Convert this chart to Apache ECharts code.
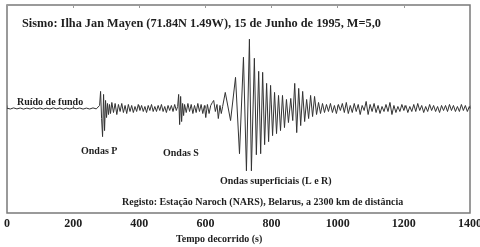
<!DOCTYPE html>
<html>
<head>
<meta charset="utf-8">
<script src="https://cdn.jsdelivr.net/npm/echarts@6/dist/echarts.min.js"></script>
<style>
  html, body { margin: 0; padding: 0; background: #ffffff; }
  #chart { width: 480px; height: 247px; }
</style>
</head>
<body>
<div id="chart"></div>
<script>
// Seismogram: [time (s), amplitude (arbitrary units)]
const backgroundNoise = [[0,0.3],[10,-0.5],[20,0.6],[30,-0.4],[40,0.5],[50,-0.6],[60,0.4],[70,-0.5],[80,0.7],[90,-0.4],[100,0.5],[110,-0.6],[120,0.3],[130,-0.5],[140,0.6],[150,-0.4],[160,0.5],[170,-0.7],[180,0.4],[190,-0.5],[200,0.6],[210,-0.3],[220,0.5],[230,-0.6],[240,0.4],[250,-0.5],[260,0.6],[270,-0.4]];
const pWave = [[276,0],[280,3],[283,17],[286,-10],[289,-28],[292,14],[295,-22],[298,8],[301,-9],[304,5],[307,-6],[310,4],[313,-5]];
const pCoda = [[317,6],[322,-4],[327,5],[332,-6],[337,4],[342,-3],[347,5],[352,-4],[357,3],[362,-5],[367,4],[372,-3],[377,3],[382,-4],[387,2],[392,-3],[397,4],[402,-2],[407,3],[412,-3],[417,2],[422,-4],[427,3],[432,-2],[437,4],[442,-3],[447,2],[452,-3],[457,3],[462,-2],[467,4],[472,-3],[477,2],[482,-4],[487,3],[492,-2],[497,3],[502,-3],[507,4],[512,-2]];
const sWave = [[516,2],[519,14],[522,-16],[525,12],[528,-13],[531,5],[534,-7],[537,4]];
const sCoda = [[542,-4],[547,5],[552,-3],[557,4],[562,-5],[567,3],[572,-4],[577,5],[582,-3],[587,4],[592,-5],[597,3],[601,-9],[606,4],[611,-5],[616,3],[621,6],[625,8],[630,-3],[635,4],[639,-10],[644,3],[648,-5],[652,2]];
const surfaceWaves = [[660,16],[676,-12],[691,31],[703,-45],[715,51],[724,-62],[733,69],[739,-62],[748,50],[754,-46],[761,37],[767,-45],[773,36],[779,-36],[785,25],[791,-33],[797,23],[803,-27],[809,16],[815,-25],[821,13],[827,-22],[833,13],[839,-19],[845,9],[851,-14],[858,10],[864,-12],[870,25],[876,-24],[882,20],[888,-17],[894,17],[900,-13],[906,9],[912,-10],[918,13],[924,-8],[930,12],[936,-6],[942,6],[948,-5],[954,5],[960,-4]];
const tailNoise = [
  [966,4],[972,-3],[978,5],[984,-4],[990,3],[996,-5],[1002,4],[1008,-2],[1014,5],[1020,-4],
  [1026,6],[1032,-5],[1038,3],[1044,-4],[1050,5],[1056,-3],[1062,4],[1068,-6],[1074,3],[1080,-2],
  [1086,7],[1092,-6],[1098,4],[1104,-3],[1110,5],[1116,-4],[1122,3],[1128,-5],[1134,2],[1140,-3],
  [1146,4],[1152,-3],[1158,6],[1164,-6],[1170,3],[1176,-4],[1182,2],[1188,-3],[1194,4],[1200,-2],
  [1206,3],[1212,-4],[1218,2],[1224,-3],[1230,4],[1236,-3],[1242,5],[1248,-2],[1254,3],[1260,-4],
  [1266,2],[1272,-3],[1278,4],[1284,-2],[1290,3],[1296,-3],[1302,2],[1308,-4],[1314,3],[1320,-2],
  [1326,3],[1332,-3],[1338,4],[1344,-2],[1350,3],[1356,-3],[1362,2],[1368,-3],[1374,4],[1380,-2],
  [1386,3],[1392,-3],[1398,2],[1400,0]
];
const xTicks = { min: 0, max: 1400, interval: 200 };

const trace = [].concat(backgroundNoise, pWave, pCoda, sWave, sCoda, surfaceWaves, tailNoise);

const FONT = '"Liberation Serif", "DejaVu Serif", serif';
const txt = (text, x, y, size) => ({
  type: 'text', x: x, y: y, silent: true,
  style: { text: text, fill: '#1e1e1e', font: 'bold ' + (size || 10) + 'px ' + FONT, align: 'left', verticalAlign: 'middle' }
});

const chart = echarts.init(document.getElementById('chart'), null, { renderer: 'canvas' });
chart.setOption({
  animation: false,
  backgroundColor: '#ffffff',
  grid: { left: 7, right: 10, top: 5, bottom: 34, show: true, borderColor: '#7a7a7a', borderWidth: 1.5, backgroundColor: 'transparent',
          outerBoundsMode: 'none' },
  xAxis: [
    {
      type: 'value', min: xTicks.min, max: xTicks.max, interval: xTicks.interval, position: 'bottom',
      axisLine: { show: false },
      axisTick: { show: true, inside: true, length: 3, lineStyle: { color: '#7a7a7a' } },
      axisLabel: { show: true, margin: 5, color: '#1e1e1e', fontSize: 12, fontWeight: 'bold', fontFamily: FONT,
                   alignMinLabel: 'center', alignMaxLabel: 'center', hideOverlap: false,
                   formatter: function (v) { return String(v); } },
      splitLine: { show: false }
    },
    {
      type: 'value', min: xTicks.min, max: xTicks.max, interval: xTicks.interval, position: 'top',
      axisLine: { show: false },
      axisTick: { show: true, inside: true, length: 3, lineStyle: { color: '#9a9a9a' } },
      axisLabel: { show: false },
      splitLine: { show: false }
    }
  ],
  yAxis: { type: 'value', min: -104, max: 103, show: false, splitLine: { show: false } },
  series: [{
    type: 'line', data: trace, showSymbol: false, symbol: 'none',
    lineStyle: { color: '#333333', width: 1 },
    xAxisIndex: 0, yAxisIndex: 0
  }],
  graphic: [
    txt('Sismo: Ilha Jan Mayen (71.84N 1.49W), 15 de Junho de 1995, M=5,0', 22, 24, 12.3),
    txt('Ruído de fundo', 17, 102),
    txt('Ondas P', 81, 151),
    txt('Ondas S', 163, 153),
    txt('Ondas superficiais (L e R)', 220, 181),
    txt('Registo: Estação Naroch (NARS), Belarus, a 2300 km de distância', 122, 202),
    txt('Tempo decorrido (s)', 176, 239)
  ]
});
</script>
</body>
</html>
